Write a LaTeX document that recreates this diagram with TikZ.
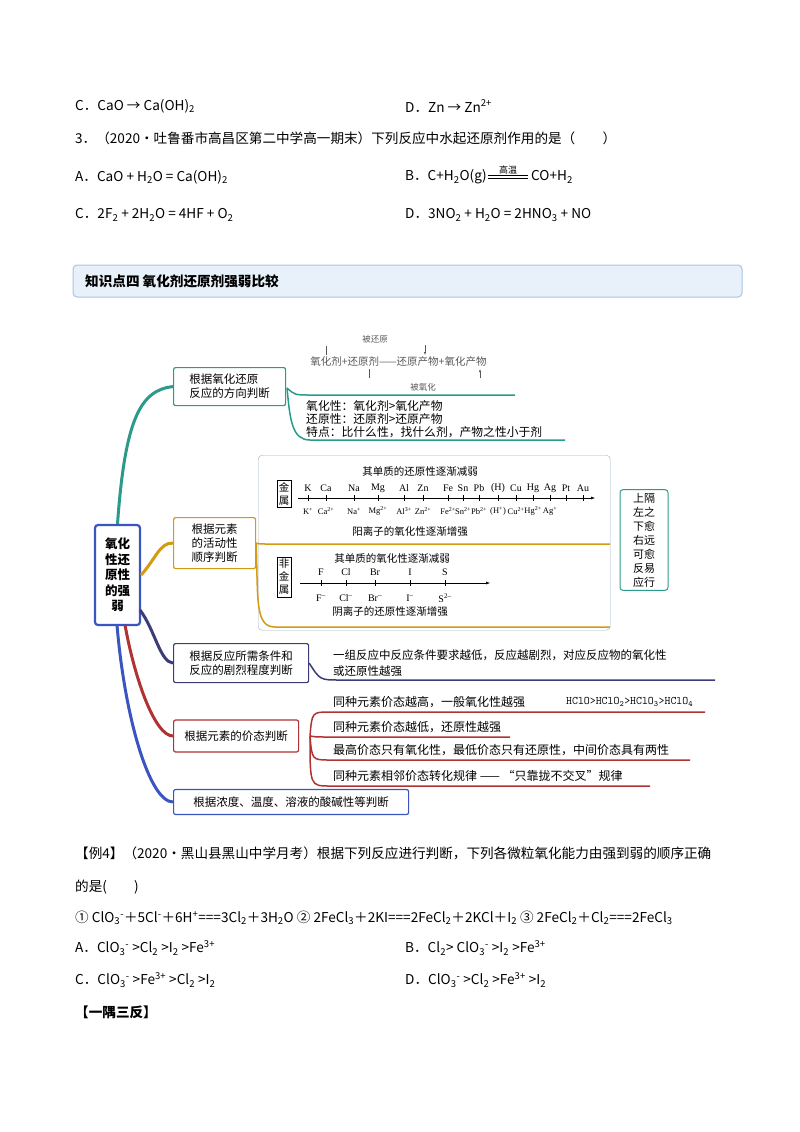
\documentclass[tikz,border=0pt]{standalone}
\usepackage{fontspec}
\setmainfont{Liberation Serif}
\newfontfamily\cjk{Noto Sans CJK SC}
\usetikzlibrary{arrows.meta,calc}
\definecolor{teal1}{HTML}{2A9A8A}
\definecolor{org}{HTML}{D49A10}
\definecolor{pur}{HTML}{3C3C78}
\definecolor{red1}{HTML}{B03232}
\definecolor{blu}{HTML}{3A55C0}
\definecolor{hdr}{HTML}{E8F0FA}
\definecolor{hdrb}{HTML}{A9C4E4}
\tikzset{txt/.style={anchor=west,inner sep=0pt,font=\fontsize{13.6}{15}\selectfont\cjk},
 mm/.style={anchor=west,inner sep=0pt,font=\fontsize{12}{14}\selectfont\cjk},
 sm/.style={inner sep=0pt,font=\fontsize{10}{11}\selectfont},
 bx/.style={draw,line width=1.2pt,rounded corners=2pt,align=left,inner sep=3pt,font=\fontsize{11.5}{14}\selectfont\cjk,anchor=north west,text=black}}
\begin{document}
\begin{tikzpicture}[x=1pt,y=-1pt]
\useasboundingbox (0,0) rectangle (800,1132);
\node[txt] (l1a) at (75,106) {C．CaO → Ca(OH)\textsubscript{2}};
\node[txt] (l1b) at (405,106) {D．Zn → Zn\textsuperscript{2+}};
\node[txt] (l2) at (75,138) {3．（2020·吐鲁番市高昌区第二中学高一期末）下列反应中水起还原剂作用的是（　　）};
\node[txt] (l3a) at (75,177) {A．CaO + H\textsubscript{2}O = Ca(OH)\textsubscript{2}};
\node[txt] (l3b) at (405,177) {B．C+H\textsubscript{2}O(g)};
\coordinate (q1) at ([xshift=1pt]l3b.east); \coordinate (q2) at ([xshift=41pt]l3b.east);
\draw[line width=0.5pt] ([yshift=-1pt]q1) -- ([yshift=-1pt]q2) ([yshift=1.5pt]q1) -- ([yshift=1.5pt]q2);
\node[inner sep=0pt,font=\fontsize{9}{9}\selectfont\cjk,anchor=south] (gw) at ($ (q1)!0.5!(q2) + (0,-3) $) {高温};
\node[txt] (l3c) at ([xshift=3pt]q2) {CO+H\textsubscript{2}};
\node[txt] (l4a) at (75,215) {C．2F\textsubscript{2} + 2H\textsubscript{2}O = 4HF + O\textsubscript{2}};
\node[txt] (l4b) at (405,215) {D．3NO\textsubscript{2} + H\textsubscript{2}O = 2HNO\textsubscript{3} + NO};
\draw[hdrb,fill=hdr,rounded corners=4pt,line width=1pt] (73,265) rectangle (742,297);
\node[txt,font=\fontsize{13.6}{15}\selectfont\cjk\bfseries] (hd) at (85,281) {知识点四\ 氧化剂还原剂强弱比较};
% center
\node[draw=blu,line width=2.2pt,rounded corners=3pt,minimum width=45pt,minimum height=100pt,align=center,font=\fontsize{12.5}{15.5}\selectfont\cjk\bfseries] (c) at (117.5,575) {氧化\\性还\\原性\\的强\\弱};
% branch boxes
\node[bx,draw=teal1,minimum width=112pt,minimum height=38pt] (b1) at (173,367) {根据氧化还原\\反应的方向判断};
\node[bx,draw=org,minimum width=82pt,minimum height=51pt] (b2) at (173,517) {根据元素\\的活动性\\顺序判断};
\node[bx,draw=pur,minimum width=135pt,minimum height=39pt] (b3) at (173,643) {根据反应所需条件和\\反应的剧烈程度判断};
\node[bx,draw=red1,minimum width=125pt,minimum height=32pt,anchor=west] (b4) at (173,736) {根据元素的价态判断};
\node[bx,draw=blu,minimum width=235pt,minimum height=25pt,anchor=west] (b5) at (173,802) {根据浓度、温度、溶液的酸碱性等判断};
% trunk curves
\draw[teal1,line width=3pt] (c.north) .. controls (125,420) and (140,390) .. (b1.west);
\draw[org,line width=3pt] (c.east) .. controls (155,560) and (160,542) .. (b2.west);
\draw[pur,line width=3pt] (140,610) .. controls (155,630) and (160,662) .. (b3.west);
\draw[red1,line width=3pt] (125,625) .. controls (135,680) and (155,736) .. (b4.west);
\draw[blu,line width=3pt] (117,625) .. controls (125,720) and (150,802) .. (b5.west);
% branch 1
\coordinate (t1) at (287,388);
\draw[teal1,line width=1.5pt] (t1) .. controls (295,395) .. (310,395) -- (515,395);
\draw[teal1,line width=1.5pt] (t1) .. controls (290,420) and (292,440) .. (310,440) -- (565,440);
\begin{scope}[gray!70!black,line width=0.5pt]
\node[mm,font=\fontsize{8.5}{9}\selectfont\cjk] (bh) at (362,339) {被还原};
\node[mm,font=\fontsize{10.5}{11}\selectfont\cjk] (eq) at (310,362) {氧化剂+还原剂——还原产物+氧化产物};
\node[mm,font=\fontsize{8.5}{9}\selectfont\cjk] (by) at (410,387) {被氧化};
\draw (326,346)--(326,355); \draw[-{Latex[length=3pt]}] (425,345)--(425,355);
\draw (369,369)--(369,378); \draw[-{Latex[length=3pt]}] (480,378)--(480,369);
\end{scope}
\node[mm,align=left,font=\fontsize{11.8}{13}\selectfont\cjk] (r1) at (306,419) {氧化性：氧化剂>氧化产物\\还原性：还原剂>还原产物\\特点：比什么性，找什么剂，产物之性小于剂};
% branch 2 big box
\node[draw=hdrb!70!gray,rounded corners=4pt,minimum width=352pt,minimum height=175pt,anchor=north west] (bb) at (258,455) {};
\draw[org,line width=1.5pt] (b2.east) .. controls (258,544) .. (270,544) -- (610,544);
\draw[org,line width=1.5pt] (b2.east) .. controls (258,600) and (255,627) .. (275,627) -- (610,627);
\node[draw,inner sep=2pt,align=center,font=\fontsize{10.5}{13}\selectfont\cjk] (jm) at (284,494) {金\\属};
\node[sm,font=\fontsize{10.5}{11}\selectfont\cjk] (t2a) at (420,472) {其单质的还原性逐渐减弱};
\draw[-{Latex[length=4pt]},line width=0.5pt] (298,498)--(595,498);
\foreach \x/\t/\b in {308/K/K\textsuperscript{+},326/Ca/Ca\textsuperscript{2+},354/Na/Na\textsuperscript{+},378/Mg/Mg\textsuperscript{2+},404/Al/Al\textsuperscript{3+},423/Zn/Zn\textsuperscript{2+},448/Fe/Fe\textsuperscript{2+},463/Sn/Sn\textsuperscript{2+},479/Pb/Pb\textsuperscript{2+},498/(H)/(H\textsuperscript{+}),516/Cu/Cu\textsuperscript{2+},533/Hg/Hg\textsuperscript{2+},550/Ag/Ag\textsuperscript{+},566/Pt/{},583/Au/{}}{
 \draw[line width=0.5pt] (\x,495)--(\x,501);
 \node[sm] at (\x,488) {\t};
 \node[sm,font=\fontsize{8.5}{9}\selectfont] at (\x,511) {\b};}
\node[sm,font=\fontsize{10.5}{11}\selectfont\cjk] (t2b) at (410,532) {阳离子的氧化性逐渐增强};
\node[draw,inner sep=2pt,align=center,font=\fontsize{10.5}{13}\selectfont\cjk] (fj) at (284,577) {非\\金\\属};
\node[sm,font=\fontsize{10.5}{11}\selectfont\cjk] (t3a) at (392,559) {其单质的氧化性逐渐减弱};
\draw[-{Latex[length=4pt]},line width=0.5pt] (300,583)--(490,583);
\foreach \x/\t/\b in {321/F/F\textsuperscript{--},346/Cl/Cl\textsuperscript{--},375/Br/Br\textsuperscript{--},410/I/I\textsuperscript{--},445/S/S\textsuperscript{2--}}{
 \draw[line width=0.5pt] (\x,580)--(\x,586);
 \node[sm] at (\x,572) {\t};
 \node[sm] at (\x,598) {\b};}
\node[sm,font=\fontsize{10.5}{11}\selectfont\cjk] (t3b) at (390,612) {阴离子的还原性逐渐增强};
\node[draw=teal1,line width=1pt,rounded corners=3pt,minimum width=48pt,minimum height=100pt,align=center,font=\fontsize{11}{14}\selectfont\cjk] (rb) at (644,540) {上隔\\左之\\下愈\\右远\\可愈\\反易\\应行};
% branch 3
\draw[pur,line width=1.5pt] (b3.east) .. controls (320,680) .. (340,680) -- (715,680);
\node[mm,align=left,font=\fontsize{11.5}{16}\selectfont\cjk] (r3) at (333,663) {一组反应中反应条件要求越低，反应越剧烈，对应反应物的氧化性\\或还原性越强};
% branch 4
\coordinate (t4) at (310,736);
\draw[red1,line width=1.5pt] (t4) .. controls (312,712) .. (330,712) -- (705,712);
\draw[red1,line width=1.5pt] (t4) .. controls (315,737) .. (330,737) -- (510,737);
\draw[red1,line width=1.5pt] (t4) .. controls (312,760) .. (330,760) -- (690,760);
\draw[red1,line width=1.5pt] (t4) .. controls (310,786) .. (330,786) -- (650,786);
\node[mm] (r4a) at (333,702) {同种元素价态越高，一般氧化性越强};
\node[mm,font=\fontsize{11.5}{12}\selectfont\ttfamily] (r4h) at (566,702) {HClO>HClO\textsubscript{2}>HClO\textsubscript{3}>HClO\textsubscript{4}};
\node[mm] (r4b) at (333,727) {同种元素价态越低，还原性越强};
\node[mm] (r4c) at (333,750) {最高价态只有氧化性，最低价态只有还原性，中间价态具有两性};
\node[mm] (r4d) at (333,776) {同种元素相邻价态转化规律\ ——\ “只靠拢不交叉”规律};
% example
\node[txt] (e1) at (75,853) {【例4】（2020·黑山县黑山中学月考）根据下列反应进行判断，下列各微粒氧化能力由强到弱的顺序正确};
\node[txt] (e2) at (75,887) {的是(　　)};
\node[txt] (e3) at (75,918) {① ClO\textsubscript{3}\textsuperscript{-}＋5Cl\textsuperscript{-}＋6H\textsuperscript{+}===3Cl\textsubscript{2}＋3H\textsubscript{2}O\ ② 2FeCl\textsubscript{3}＋2KI===2FeCl\textsubscript{2}＋2KCl＋I\textsubscript{2}\ ③ 2FeCl\textsubscript{2}＋Cl\textsubscript{2}===2FeCl\textsubscript{3}};
\node[txt] (e4a) at (75,948) {A．ClO\textsubscript{3}\textsuperscript{-} >Cl\textsubscript{2} >I\textsubscript{2} >Fe\textsuperscript{3+}};
\node[txt] (e4b) at (405,948) {B．Cl\textsubscript{2}> ClO\textsubscript{3}\textsuperscript{-} >I\textsubscript{2} >Fe\textsuperscript{3+}};
\node[txt] (e5a) at (75,980) {C．ClO\textsubscript{3}\textsuperscript{-} >Fe\textsuperscript{3+} >Cl\textsubscript{2} >I\textsubscript{2}};
\node[txt] (e5b) at (405,980) {D．ClO\textsubscript{3}\textsuperscript{-} >Cl\textsubscript{2} >Fe\textsuperscript{3+} >I\textsubscript{2}};
\node[txt,font=\fontsize{13.6}{15}\selectfont\cjk\bfseries] (e6) at (75,1012) {【一隅三反】};
\end{tikzpicture}
\end{document}
